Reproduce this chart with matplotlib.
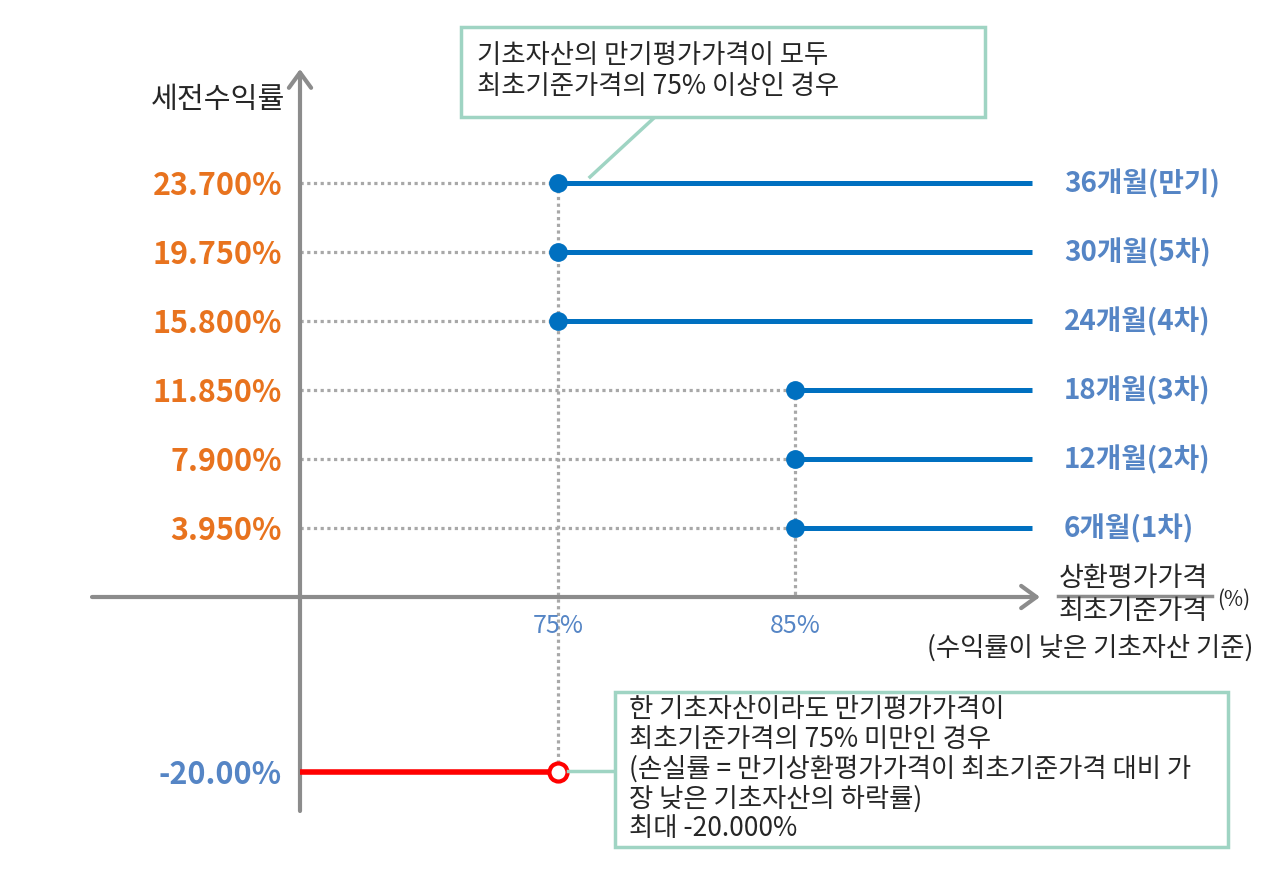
import numpy as np
import matplotlib
matplotlib.use("Agg")
import matplotlib.pyplot as plt
from matplotlib.patches import Rectangle
from matplotlib.lines import Line2D

plt.rcParams['font.family'] = ['Noto Sans CJK KR', 'DejaVu Sans']

# ---- data ----
barrier_levels = [85, 85, 85, 75, 75, 75]          # % of initial price
coupon_returns = [3.950, 7.900, 11.850, 15.800, 19.750, 23.700]
period_labels = ['6개월(1차)', '12개월(2차)', '18개월(3차)', '24개월(4차)', '30개월(5차)', '36개월(만기)']
return_labels = ['3.950%', '7.900%', '11.850%', '15.800%', '19.750%', '23.700%']
loss_barrier = 75
loss_return = -20.0
loss_label = '-20.00%'
x_ticks = [75, 85]
x_tick_labels = ['75%', '85%']
line_end = 95

W, H = 1274, 870
fig = plt.figure(figsize=(W / 100, H / 100), dpi=100)
ax = fig.add_axes([0, 0, 1, 1])

# schematic (non-linear) scales
C = 10.886 / 75.0
def xf(x):
    x = np.asarray(x, dtype=float)
    return np.where(x < 75, x * C, 75 * C + (x - 75))
def xi(t):
    t = np.asarray(t, dtype=float)
    return np.where(t < 75 * C, t / C, t - 75 * C + 75)
def yf(y):
    y = np.asarray(y, dtype=float)
    return np.where(y < 0, y * 0.5, y)
def yi(t):
    t = np.asarray(t, dtype=float)
    return np.where(t < 0, t * 2.0, t)

ax.set_xscale('function', functions=(xf, xi))
ax.set_yscale('function', functions=(yf, yi))
PX_X, PX_Y = 23.7, 17.47
x0px, y0px = 300, 598
ax.set_xlim(float(xi(-x0px / PX_X)), float(xi((W - x0px) / PX_X)))
ax.set_ylim(float(yi(-(H - y0px) / PX_Y)), float(yi(y0px / PX_Y)))
ax.axis('off')

def P(x, y):
    return (x / W, 1 - y / H)

GRAY = '#8c8c8c'
DOT = '#a8a8a8'
BLUE = '#0070C0'
LBLUE = '#5585C5'
ORANGE = '#E8731E'
RED = '#FF0000'
MINT = '#9fd4c3'
TXT = '#262626'

# axes with chevron arrows
ax.annotate('', xy=(1040 / W, 0), xytext=(92 / W, 0),
            xycoords=ax.get_yaxis_transform(), textcoords=ax.get_yaxis_transform(),
            arrowprops=dict(arrowstyle='->,head_length=0.55,head_width=0.4',
                            mutation_scale=20, lw=3, color=GRAY, shrinkA=0, shrinkB=0), zorder=2)
ax.annotate('', xy=(0, 1 - 70 / H), xytext=(0, 1 - 812 / H),
            xycoords=ax.get_xaxis_transform(), textcoords=ax.get_xaxis_transform(),
            arrowprops=dict(arrowstyle='->,head_length=0.55,head_width=0.4',
                            mutation_scale=20, lw=3, color=GRAY, shrinkA=0, shrinkB=0), zorder=2)

dot_style = dict(color=DOT, lw=2.3, linestyle=(0, (1, 1.1)), zorder=1)

# horizontal dotted guides and payoff lines
for b, r in zip(barrier_levels, coupon_returns):
    ax.plot([0, b], [r, r], **dot_style)
    ax.plot([b, line_end], [r, r], color=BLUE, lw=3.6, solid_capstyle='butt', zorder=3)
    ax.plot([b], [r], 'o', color=BLUE, ms=12.5, zorder=4)

# vertical dotted guides
ax.plot([75, 75], [max(coupon_returns), loss_return], **dot_style)
ax.plot([85, 85], [coupon_returns[2], 0], **dot_style)

# loss line
ax.plot([0, loss_barrier], [loss_return, loss_return], color=RED, lw=4, solid_capstyle='butt', zorder=3)
ax.plot([loss_barrier], [loss_return], 'o', mfc='white', mec=RED, mew=3, ms=13, zorder=4)

# y labels
for r, lab in zip(coupon_returns, return_labels):
    ax.annotate(lab, xy=(0, r), xytext=(-18, -2), textcoords='offset pixels',
                ha='right', va='center', fontsize=22, fontweight='bold', color=ORANGE)
ax.annotate(loss_label, xy=(0, loss_return), xytext=(-18, -2), textcoords='offset pixels',
            ha='right', va='center', fontsize=22, fontweight='bold', color=LBLUE)

# right labels
for r, lab in zip(coupon_returns, period_labels):
    ax.annotate(lab, xy=(line_end, r), xytext=(32, 0), textcoords='offset pixels',
                ha='left', va='center', fontsize=20, fontweight='bold', color=LBLUE)

# x tick labels
for xt, lab in zip(x_ticks, x_tick_labels):
    ax.annotate(lab, xy=(xt, 0), xytext=(0, -28), textcoords='offset pixels',
                ha='center', va='center', fontsize=18, fontweight='medium', color=LBLUE)

# axis titles
fig.text(*P(218, 100), '세전수익률', ha='center', va='center', fontsize=21, color=TXT)
fig.text(*P(1133, 578), '상환평가가격', ha='center', va='center', fontsize=19.5, color=TXT)
fig.text(*P(1133, 612), '최초기준가격', ha='center', va='center', fontsize=19.5, color=TXT)
fig.add_artist(Line2D([1058 / W, 1212 / W], [1 - 597 / H, 1 - 597 / H],
                      transform=fig.transFigure, color=GRAY, lw=2.5))
fig.text(*P(1234, 600), '(%)', ha='center', va='center', fontsize=15, color=TXT)
fig.text(*P(1090, 648), '(수익률이 낮은 기초자산 기준)', ha='center', va='center', fontsize=19, color=TXT)

# annotation boxes
def box(x1, y1, x2, y2):
    fig.add_artist(Rectangle(P(x1, y2), (x2 - x1) / W, (y2 - y1) / H, transform=fig.transFigure,
                             fill=True, facecolor='white', edgecolor=MINT, lw=2.5, zorder=5))

box(461, 28, 985, 118)
fig.add_artist(Line2D([655 / W, 590 / W], [1 - 118 / H, 1 - 178 / H],
                      transform=fig.transFigure, color=MINT, lw=2.5))
fig.text(*P(477, 71), '기초자산의 만기평가가격이 모두\n최초기준가격의 75% 이상인 경우',
         ha='left', va='center', fontsize=19, color=TXT, linespacing=1.15, zorder=6)

box(615, 693, 1228, 848)
fig.add_artist(Line2D([568 / W, 615 / W], [1 - 772 / H, 1 - 772 / H],
                      transform=fig.transFigure, color=MINT, lw=2.5))
fig.text(*P(629, 769), '한 기초자산이라도 만기평가가격이\n최초기준가격의 75% 미만인 경우\n'
         '(손실률 = 만기상환평가가격이 최초기준가격 대비 가\n장 낮은 기초자산의 하락률)\n최대 -20.000%',
         ha='left', va='center', fontsize=19, color=TXT, linespacing=1.12, zorder=6)

fig.savefig('out.png', dpi=100, facecolor='white')
